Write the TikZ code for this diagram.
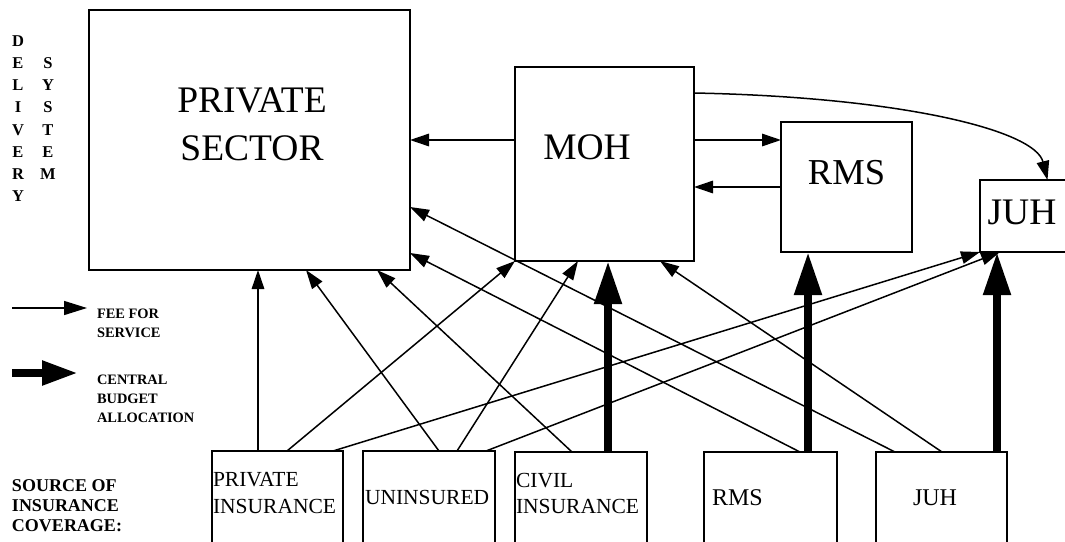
\documentclass[tikz,border=0pt]{standalone}
\usepackage{fontspec}
\setmainfont{Liberation Serif}
\usetikzlibrary{arrows.meta}
\begin{document}
\begin{tikzpicture}[x=1pt,y=-1pt,line join=miter,
  box/.style={draw, line width=1.5pt, inner sep=0pt, outer sep=0pt, anchor=north west},
  fee/.style={line width=1.5pt, -{Triangle[length=19pt,width=12.5pt]}},
  cba/.style={line width=8pt, -{Triangle[length=43pt,width=26pt]}},
  lbl/.style={inner sep=0pt, outer sep=0pt},
  big/.style={lbl, align=center, font={\fontsize{37.5}{48}\selectfont}},
  small/.style={lbl, align=left, anchor=west, font={\bfseries\fontsize{14.4}{19}\selectfont}},
  boxtxt/.style={lbl, align=left, anchor=west, font={\fontsize{21.5}{26.5}\selectfont}},
  vert/.style={lbl, align=center, font={\bfseries\fontsize{16.5}{22.2}\selectfont}}
]
\useasboundingbox (0,0) rectangle (1065,541);
\fill[white] (0,0) rectangle (1065,541);
\clip (0,0) rectangle (1065,541);

% boxes
\node[box, minimum width=321pt, minimum height=260pt] (ps) at (89,10) {};
\node[box, minimum width=179pt, minimum height=194pt] (moh) at (515,67) {};
\node[box, minimum width=131pt, minimum height=130pt] (rms) at (781,122) {};
\node[box, minimum width=100pt, minimum height=72pt] (juh) at (980,180) {};
\node[box, minimum width=131pt, minimum height=110pt] (pi) at (212,451) {};
\node[box, minimum width=132pt, minimum height=110pt] (un) at (363,451) {};
\node[box, minimum width=132pt, minimum height=110pt] (ci) at (515,452) {};
\node[box, minimum width=133pt, minimum height=110pt] (rb) at (704,452) {};
\node[box, minimum width=131pt, minimum height=110pt] (jb) at (876,452) {};

% labels
\node[vert] (tdel) at (18,118.5) {D\\E\\L\\I\\V\\E\\R\\Y};
\node[vert] (tsys) at (48,118.5) {S\\Y\\S\\T\\E\\M};
\node[big] (tps) at (252,124) {PRIVATE\\SECTOR};
\node[big] (tmoh) at (587,147) {MOH};
\node[lbl, font={\fontsize{36.5}{44}\selectfont}] (trms) at (846.5,173) {RMS};
\node[big] (tjuh) at (1022,212) {JUH};
\node[small] (tfee) at (97,323.5) {FEE FOR\\SERVICE};
\node[small] (tcba) at (97,399) {CENTRAL\\BUDGET\\ALLOCATION};
\node[lbl, align=left, anchor=west, font={\bfseries\fontsize{18}{20}\selectfont}] (tsrc) at (12,506) {SOURCE OF\\INSURANCE\\COVERAGE:};
\node[boxtxt] (tpi) at (213,493) {PRIVATE\\INSURANCE};
\node[boxtxt] (tun) at (365,497) {UNINSURED};
\node[boxtxt] (tci) at (516,493.5) {CIVIL\\INSURANCE};
\node[lbl, anchor=west, font={\fontsize{24}{28}\selectfont}] (trb) at (712,498) {RMS};
\node[lbl, anchor=west, font={\fontsize{24}{28}\selectfont}] (tjb) at (913,498) {JUH};

% legend
\coordinate (fa) at (12,308);
\coordinate (fb) at (87,308);
\coordinate (ca) at (12,373);
\coordinate (cb) at (78,373);
\draw[line width=1.5pt, -{Triangle[length=23pt,width=14pt]}] (fa) -- (fb);
\draw[line width=8pt, -{Triangle[length=36pt,width=23pt]}] (ca) -- (cb);

% top connectors
\draw[fee] (moh.west |- ps.east) -- (ps.east);
\draw[fee] (moh.east |- ps.east) -- (rms.west |- ps.east);
\draw[fee] (rms.west) -- (moh.east |- rms.west);
\coordinate (k1) at (900,97);
\coordinate (k2) at (1035,130);
\draw[fee] ([yshift=-26pt]moh.north east) .. controls (k1) and (k2) .. ([xshift=17.5pt]juh.north);

% fee for service from sources
\draw[fee] ([xshift=46pt]pi.north west) -- ([xshift=46pt]pi.north west |- ps.south);
\draw[fee] ([xshift=75pt]pi.north west) -- (moh.south west);
\draw[fee] ([xshift=121pt]pi.north west) -- (juh.south west);
\draw[fee] ([xshift=76pt]un.north west) -- ([xshift=217pt]ps.south west);
\draw[fee] ([xshift=94pt]un.north west) -- ([xshift=63pt]moh.south west);
\draw[fee] ([xshift=123pt]un.north west) -- ([xshift=20pt]juh.south west);
\draw[fee] ([xshift=57pt]ci.north west) -- ([xshift=288pt]ps.south west);
\draw[fee] ([xshift=96pt]rb.north west) -- ([yshift=17pt]ps.south east);
\draw[fee] ([xshift=19pt]jb.north west) -- ([yshift=63pt]ps.south east);
\draw[fee] ([xshift=66pt]jb.north west) -- ([xshift=145pt]moh.south west);

% central budget allocation
\draw[cba] ([xshift=93pt]ci.north west) -- ([xshift=93pt]ci.north west |- moh.south);
\draw[cba] ([xshift=104pt]rb.north west) -- ([xshift=104pt]rb.north west |- rms.south);
\draw[cba] ([xshift=121pt]jb.north west) -- ([xshift=121pt]jb.north west |- juh.south);
\end{tikzpicture}
\end{document}
